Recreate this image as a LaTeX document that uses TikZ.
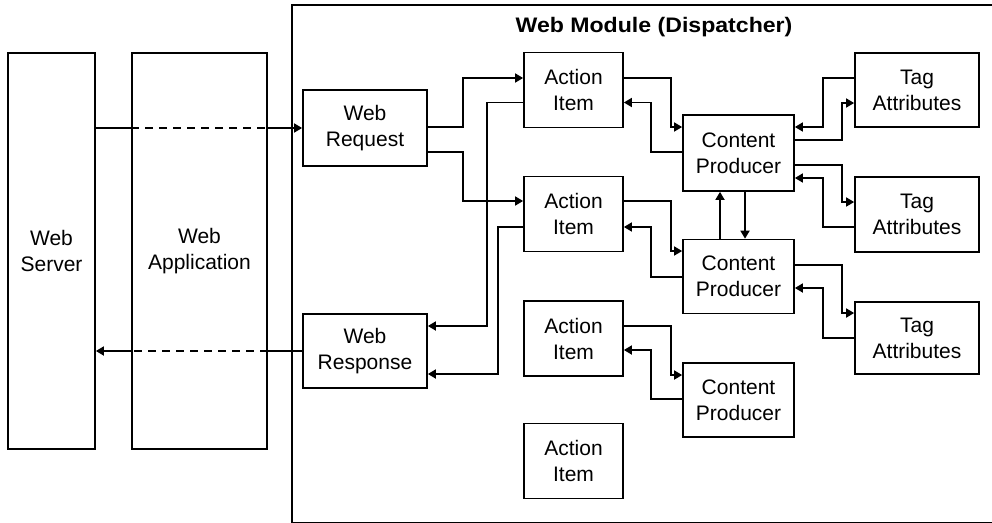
\documentclass[tikz,border=0pt]{standalone}
\usepackage{fontspec}
\setmainfont{Liberation Sans}
\usetikzlibrary{arrows.meta}
\tikzset{
  box/.style={draw, line width=1.7pt, inner sep=0pt, align=center,
    font=\fontsize{21}{26}\selectfont},
  arr/.style={line width=1.7pt, -{Triangle[length=8pt,width=9pt]}},
  wire/.style={line width=1.7pt},
}
\begin{document}
\begin{tikzpicture}[x=1pt,y=-1pt]
\useasboundingbox (0,0) rectangle (992,522);
% dispatcher frame (runs off the right edge)
\node[draw, line width=1.7pt, inner sep=0pt, minimum width=800pt, minimum height=517.5pt,
  anchor=north west] (mod) at (291,4) {};
\node[font=\bfseries\fontsize{21}{26}\selectfont, xscale=1.1] (title) at (654,27) {Web Module (Dispatcher)};

% outer tiers
\node[box, minimum width=87pt, minimum height=396pt] (srv) at (51.5,251) {Web\\Server};
\node[box, minimum width=135pt, minimum height=396pt] (app) at (199.5,251) {Web\\Application};

% request / response
\node[box, minimum width=124pt, minimum height=76pt] (req) at (365,128) {Web\\Request};
\node[box, minimum width=124pt, minimum height=74pt] (resp) at (365,351) {Web\\Response};

% action items
\node[box, minimum width=99pt, minimum height=75pt] (a1) at (573.5,90) {Action\\Item};
\node[box, minimum width=99pt, minimum height=75pt] (a2) at (573.5,214) {Action\\Item};
\node[box, minimum width=99pt, minimum height=75pt] (a3) at (573.5,338.5) {Action\\Item};
\node[box, minimum width=99pt, minimum height=75pt] (a4) at (573.5,461) {Action\\Item};

% content producers
\node[box, minimum width=111pt, minimum height=76pt] (cp1) at (738.5,153) {Content\\Producer};
\node[box, minimum width=111pt, minimum height=74pt] (cp2) at (738.5,276.5) {Content\\Producer};
\node[box, minimum width=111pt, minimum height=74pt] (cp3) at (738.5,400) {Content\\Producer};

% tag attributes
\node[box, minimum width=124pt, minimum height=74pt] (ta1) at (917,90) {Tag\\Attributes};
\node[box, minimum width=124pt, minimum height=75pt] (ta2) at (917,214.5) {Tag\\Attributes};
\node[box, minimum width=124pt, minimum height=72pt] (ta3) at (917,338) {Tag\\Attributes};

% server <-> dispatcher
\draw[wire] (srv.east |- req.west) -- (app.west |- req.west);
\draw[wire, dashed, dash pattern=on 8pt off 6pt] (app.west |- req.west) -- (app.east |- req.west);
\draw[arr] (app.east |- req.west) -- (req.west);
\draw[wire] (resp.west) -- (app.east |- resp.west);
\draw[wire, dashed, dash pattern=on 8pt off 6pt] (app.east |- resp.west) -- (app.west |- resp.west);
\draw[arr] (app.west |- resp.west) -- (srv.east |- resp.west);

% request -> action items
\draw[arr] ([yshift=1pt]req.east) -- ++(35,0) |- ([yshift=12pt]a1.west);
\draw[arr] ([yshift=-24pt]req.east) -- ++(35,0) |- ([yshift=13pt]a2.west);

% action items -> response
\draw[arr] ([yshift=-12.5pt]a1.west) -- ++(-36,0) |- ([yshift=25pt]resp.east);
\draw[arr] ([yshift=-13pt]a2.west) -- ++(-25,0) |- ([yshift=-23pt]resp.east);

% action items <-> content producers
\draw[arr] ([yshift=12pt]a1.east) -- ++(47,0) |- ([yshift=26pt]cp1.west);
\draw[arr] ([yshift=1pt]cp1.west) -- ++(-31,0) |- ([yshift=-12.5pt]a1.east);
\draw[arr] ([yshift=13pt]a2.east) -- ++(47,0) |- ([yshift=25.5pt]cp2.west);
\draw[arr] ([yshift=-0.5pt]cp2.west) -- ++(-31,0) |- ([yshift=-13pt]a2.east);
\draw[arr] ([yshift=12.5pt]a3.east) -- ++(47,0) |- ([yshift=25pt]cp3.west);
\draw[arr] ([yshift=1pt]cp3.west) -- ++(-31,0) |- ([yshift=-11.5pt]a3.east);

% content producer <-> content producer
\draw[arr] ([xshift=-18.5pt]cp2.north) -- ([xshift=-18.5pt]cp1.south);
\draw[arr] ([xshift=6.5pt]cp1.south) -- ([xshift=6.5pt]cp2.north);

% content producers <-> tag attributes
\draw[arr] ([yshift=12pt]ta1.west) -- ++(-31,0) |- ([yshift=26pt]cp1.east);
\draw[arr] ([yshift=13pt]cp1.east) -- ++(47,0) |- ([yshift=-13pt]ta1.west);
\draw[arr] ([yshift=-12pt]cp1.east) -- ++(47,0) |- ([yshift=12.5pt]ta2.west);
\draw[arr] ([yshift=-12.5pt]ta2.west) -- ++(-31,0) |- ([yshift=-25pt]cp1.east);
\draw[arr] ([yshift=11.5pt]cp2.east) -- ++(47,0) |- ([yshift=25pt]ta3.west);
\draw[arr] (ta3.west) -- ++(-31,0) |- ([yshift=-11.5pt]cp2.east);
\end{tikzpicture}
\end{document}
